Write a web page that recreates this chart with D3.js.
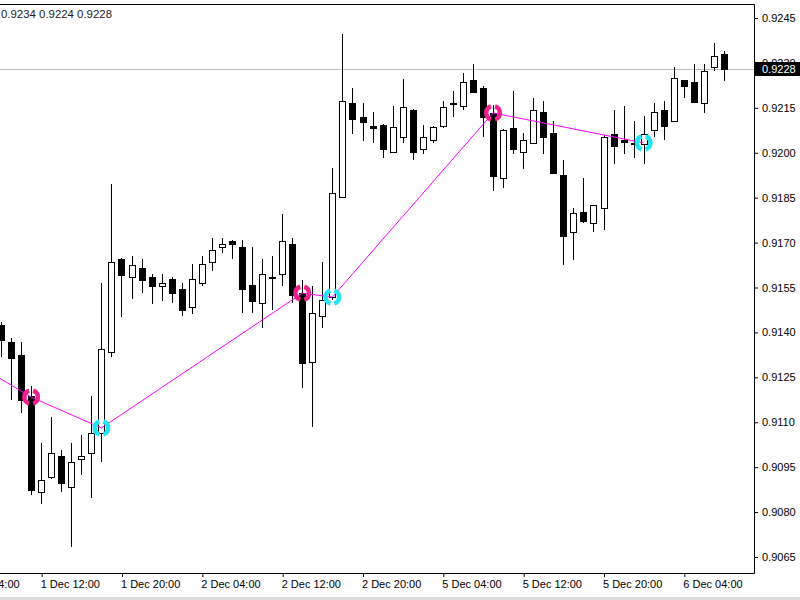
<!DOCTYPE html>
<html>
<head>
<meta charset="utf-8">
<script src="https://cdn.jsdelivr.net/npm/d3@7"></script>
<style>
	html, body { margin: 0; padding: 0; background: #fff; }
	#chart { width: 800px; height: 600px; }
	text { font-family: "Liberation Sans", Arial, sans-serif; }
</style>
</head>
<body>
<div id="chart"></div>
<script>
// H1 bars, 1 Dec 08:00 -> 6 Dec 08:00
const opens = [0.91425, 0.91368, 0.91324, 0.91187, 0.90867, 0.90917, 0.90987, 0.90884, 0.90977, 0.90997,
	0.91064, 0.91334, 0.91645, 0.91585, 0.91615, 0.91585, 0.91555, 0.91578, 0.91545, 0.91485,
	0.91565, 0.91635, 0.91685, 0.91705, 0.91685, 0.91558, 0.91498, 0.91583, 0.91595, 0.91695,
	0.91531, 0.91301, 0.91455, 0.91518, 0.91852, 0.92166, 0.92119, 0.92089, 0.92093, 0.92002,
	0.92053, 0.92143, 0.92012, 0.92043, 0.92089, 0.92164, 0.92156, 0.92243, 0.92216, 0.92133,
	0.91916, 0.92083, 0.92002, 0.92033, 0.92136, 0.92066, 0.91926, 0.91735, 0.91802, 0.91765,
	0.91815, 0.92063, 0.92043, 0.92033, 0.92029, 0.92076, 0.92143, 0.92106, 0.92243, 0.92236,
	0.92166, 0.92286, 0.92330];
const highs = [0.91435, 0.91381, 0.91368, 0.91221, 0.91031, 0.91117, 0.91007, 0.91031, 0.91057, 0.91188,
	0.91565, 0.91896, 0.91648, 0.91655, 0.91645, 0.91595, 0.91595, 0.91585, 0.91565, 0.91628,
	0.91655, 0.91715, 0.91715, 0.91709, 0.91709, 0.91685, 0.91645, 0.91655, 0.91795, 0.91715,
	0.91575, 0.91555, 0.91635, 0.91949, 0.92397, 0.92216, 0.92166, 0.92136, 0.92096, 0.92156,
	0.92246, 0.92146, 0.92093, 0.92089, 0.92173, 0.92206, 0.92266, 0.92296, 0.92223, 0.92159,
	0.92079, 0.92206, 0.92066, 0.92183, 0.92173, 0.92106, 0.91976, 0.91815, 0.91916, 0.91825,
	0.92059, 0.92143, 0.92156, 0.92106, 0.92123, 0.92166, 0.92173, 0.92286, 0.92243, 0.92296,
	0.92296, 0.92367, 0.92340];
const lows = [0.91318, 0.91174, 0.91131, 0.90857, 0.90827, 0.90910, 0.90867, 0.90683, 0.90924, 0.90847,
	0.90967, 0.91318, 0.91451, 0.91511, 0.91531, 0.91495, 0.91505, 0.91498, 0.91455, 0.91461,
	0.91555, 0.91605, 0.91665, 0.91645, 0.91465, 0.91465, 0.91415, 0.91475, 0.91555, 0.91498,
	0.91214, 0.91084, 0.91415, 0.91508, 0.91850, 0.92063, 0.92039, 0.92033, 0.91982, 0.92000,
	0.92033, 0.91976, 0.91996, 0.92033, 0.92083, 0.92119, 0.92143, 0.92200, 0.92053, 0.91872,
	0.91882, 0.91996, 0.91946, 0.92030, 0.91996, 0.91930, 0.91625, 0.91642, 0.91765, 0.91735,
	0.91742, 0.91962, 0.91996, 0.91982, 0.91962, 0.92053, 0.92043, 0.92104, 0.92183, 0.92166,
	0.92133, 0.92273, 0.92240];
const closes = [0.91375, 0.91314, 0.91174, 0.90874, 0.90907, 0.90997, 0.90897, 0.90967, 0.90987, 0.91064,
	0.91344, 0.91635, 0.91592, 0.91625, 0.91575, 0.91555, 0.91565, 0.91531, 0.91475, 0.91578,
	0.91628, 0.91675, 0.91695, 0.91695, 0.91545, 0.91505, 0.91595, 0.91585, 0.91705, 0.91525,
	0.91298, 0.91465, 0.91508, 0.91866, 0.92173, 0.92113, 0.92103, 0.92083, 0.92012, 0.92086,
	0.92153, 0.92002, 0.92053, 0.92086, 0.92153, 0.92166, 0.92236, 0.92203, 0.92119, 0.91922,
	0.92076, 0.92012, 0.92043, 0.92143, 0.92053, 0.91932, 0.91722, 0.91799, 0.91772, 0.91825,
	0.92053, 0.92023, 0.92036, 0.92034, 0.92063, 0.92136, 0.92089, 0.92250, 0.92223, 0.92169,
	0.92273, 0.92323, 0.92280];

// zigzag pivots (bar index, price, kind)
const zzBars = [-6, 3, 10, 30, 33, 49, 64];
const zzPrices = [0.91365, 0.91184, 0.91081, 0.91531, 0.91518, 0.92133, 0.92033];
const zzKinds = ['', 'high', 'low', 'high', 'low', 'high', 'low'];

// time axis
const timeTickBars = [-4, 4, 12, 20, 28, 36, 44, 52, 60, 68];
const timeTickLabels = ['1 Dec 04:00', '1 Dec 12:00', '1 Dec 20:00', '2 Dec 04:00', '2 Dec 12:00',
	'2 Dec 20:00', '5 Dec 04:00', '5 Dec 12:00', '5 Dec 20:00', '6 Dec 04:00'];

// price axis
const priceTicks = [0.9065, 0.9080, 0.9095, 0.9110, 0.9125, 0.9140, 0.9155, 0.9170,
	0.9185, 0.9200, 0.9215, 0.9230, 0.9245];
const lastPrice = 0.9228;
const headerText = '0.9234 0.9224 0.9228';

const width = 800,
	height = 600,
	plotRight = 754,
	plotTop = 4,
	plotBottom = 573;

const svg = d3.select('#chart').append('svg')
	.attr('width', width)
	.attr('height', height);

const x = d3.scaleLinear()
	.domain([0, 72])
	.range([1, 724]);

const y = d3.scaleLinear()
	.domain([0.9065, 0.9245])
	.range([557, 18]);

svg.append('defs').append('clipPath')
	.attr('id', 'plot-clip')
	.append('rect')
	.attr('x', 0)
	.attr('y', plotTop)
	.attr('width', plotRight)
	.attr('height', plotBottom - plotTop);

const plot = svg.append('g').attr('clip-path', 'url(#plot-clip)');

// ###
// CURRENT PRICE LINE
// ###

plot.append('line')
	.attr('x1', 0)
	.attr('x2', plotRight)
	.attr('y1', Math.round(y(lastPrice)) + 0.5)
	.attr('y2', Math.round(y(lastPrice)) + 0.5)
	.attr('stroke', '#c0c0c0')
	.attr('stroke-width', 1);

// ###
// CANDLES
// ###

const bars = d3.range(opens.length).map(i => ({
	i: i, o: opens[i], h: highs[i], l: lows[i], c: closes[i]
}));

const candle = plot.selectAll('g.candle')
	.data(bars)
	.enter().append('g')
	.attr('class', 'candle');

candle.append('line')
	.attr('x1', d => Math.round(x(d.i)) + 0.5)
	.attr('x2', d => Math.round(x(d.i)) + 0.5)
	.attr('y1', d => Math.round(y(d.h)))
	.attr('y2', d => Math.round(y(d.l)))
	.attr('stroke', '#000')
	.attr('stroke-width', 1);

candle.append('rect')
	.attr('x', d => Math.round(x(d.i)) - 2.5)
	.attr('y', d => Math.round(y(Math.max(d.o, d.c))) + 0.5)
	.attr('width', 6)
	.attr('height', d => Math.max(1, Math.round(Math.abs(y(d.o) - y(d.c)))))
	.attr('fill', d => d.c >= d.o ? '#fff' : '#000')
	.attr('stroke', '#000')
	.attr('stroke-width', 1);

// ###
// ZIGZAG
// ###

const zz = zzBars.map((b, i) => ({ b: b, p: zzPrices[i], k: zzKinds[i] }));

plot.append('path')
	.datum(zz)
	.attr('d', d3.line().x(d => x(d.b)).y(d => y(d.p)))
	.attr('fill', 'none')
	.attr('stroke', '#ff00ff')
	.attr('stroke-width', 1);

const ringArc = d3.arc().innerRadius(4.5).outerRadius(9);
const ringParts = [[0.3, Math.PI - 0.3], [Math.PI + 0.3, 2 * Math.PI - 0.3]];

const marker = plot.selectAll('g.marker')
	.data(zz.filter(d => d.k))
	.enter().append('g')
	.attr('class', 'marker')
	.attr('transform', d => `translate(${x(d.b)}, ${y(d.p)})`);

marker.selectAll('path')
	.data(d => ringParts.map(a => ({ a: a, k: d.k })))
	.enter().append('path')
	.attr('d', d => ringArc({ startAngle: d.a[0], endAngle: d.a[1] }))
	.attr('fill', d => d.k === 'high' ? '#f0208c' : '#22e4f2');

// ###
// AXES
// ###

const yAxis = svg.append('g')
	.attr('transform', `translate(${plotRight}, 0)`)
	.call(d3.axisRight(y)
		.tickValues(priceTicks)
		.tickFormat(d3.format('.4f'))
		.tickSize(4)
		.tickPadding(4));

const xAxis = svg.append('g')
	.attr('transform', `translate(0, ${plotBottom})`)
	.call(d3.axisBottom(x)
		.tickValues(timeTickBars)
		.tickFormat((d, i) => timeTickLabels[i])
		.tickSize(4)
		.tickPadding(3));

[xAxis, yAxis].forEach(a => {
	a.select('.domain').remove();
	a.selectAll('line').attr('stroke', '#000');
	a.selectAll('text')
		.attr('fill', '#000')
		.style('font-size', '11px')
		.style('font-family', '"Liberation Sans", Arial, sans-serif');
});

xAxis.selectAll('text').attr('text-anchor', 'start').attr('dx', -1);
xAxis.selectAll('.tick line').attr('transform', 'translate(0.5, 0)');

// plot frame
svg.append('path')
	.attr('d', `M0,${plotTop + 0.5}H${plotRight + 0.5}V${plotBottom + 0.5}H0`)
	.attr('fill', 'none')
	.attr('stroke', '#000')
	.attr('stroke-width', 1);

// last price box
const lastY = Math.round(y(lastPrice));
svg.append('rect')
	.attr('x', plotRight + 1)
	.attr('y', lastY - 7)
	.attr('width', width - plotRight - 1)
	.attr('height', 14)
	.attr('fill', '#000');

svg.append('text')
	.attr('x', plotRight + 8)
	.attr('y', lastY + 4)
	.attr('fill', '#fff')
	.style('font-size', '11px')
	.text(d3.format('.4f')(lastPrice));

// header
svg.append('text')
	.attr('x', 1)
	.attr('y', 18)
	.attr('fill', '#222')
	.style('font-size', '11px')
	.attr('textLength', 111)
	.attr('lengthAdjust', 'spacingAndGlyphs')
	.text(headerText);

// window strip at bottom
svg.append('rect')
	.attr('x', 0)
	.attr('y', 597)
	.attr('width', width)
	.attr('height', 3)
	.attr('fill', '#dcdcdc');
</script>
</body>
</html>
